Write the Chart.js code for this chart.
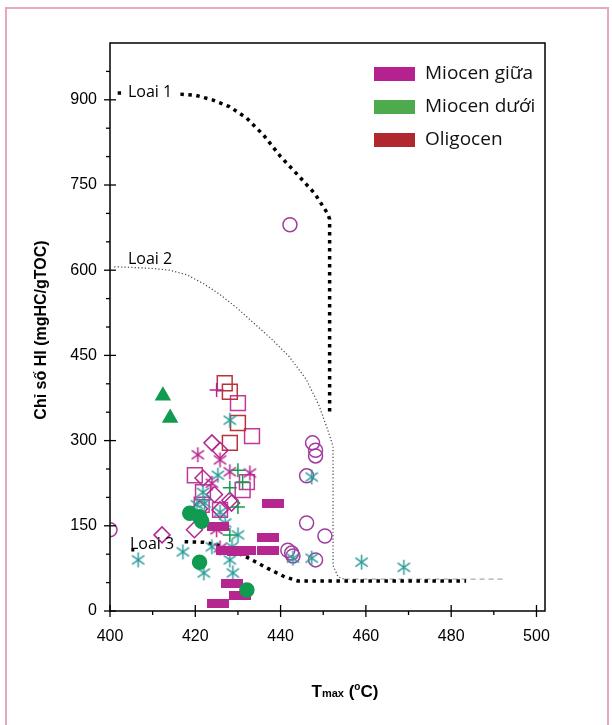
<!DOCTYPE html>
<html>
<head>
<meta charset="utf-8">
<script src="https://cdn.jsdelivr.net/npm/chart.js@4.4.1/dist/chart.umd.min.js"></script>
<style>
body { margin: 0; background: #fff; }
#vien { position: absolute; left: 5px; top: 7px; width: 604px; height: 740px; border: 2px solid #eba6bf; box-sizing: border-box; }
canvas { position: absolute; left: 0; top: 0; }
</style>
</head>
<body>
<div id="vien"></div>
<canvas id="chartHI" width="612" height="725"></canvas>
<script>
// Du lieu doc tu hinh: [Tmax, HI]
const giuaCircles = [[442.2,680],[400,143],[447.5,296],[448.2,283],[448.2,273],[446.1,238],[446.1,155],[450.4,132],[441.7,107],[442.6,102],[442.9,97],[448.2,90]];
const giuaSquares = [[419.9,239],[432.1,227],[431.1,213],[421.8,209],[421.5,187],[425.8,178],[430,366],[433.3,308]];
const oligoSquares = [[426.9,401],[428.1,386],[430,331],[428.1,296]];
const giuaDiamonds = [[423.9,296],[425.8,283],[421.8,234],[428.1,195],[425.8,178],[419.8,143],[412.2,134],[424.5,205],[428.5,190],[421,180]];
const giuaStars = [[420.6,275],[425.8,266],[428.1,245],[432.8,243],[423.9,225],[425.8,111],[425,143]];
const giuaPlus = [[425,389]];
const duoiPlus = [[430,248],[431.1,227],[428.1,217],[430,183],[428.1,134]];
const tealStars = [[447.3,236],[442.9,93],[447.3,93],[459,86],[468.9,77],[406.6,90],[417.1,104],[420.4,187],[422,67],[428.1,336],[425.3,239],[421.8,209],[422.2,190],[425.8,174],[427,155],[423.9,113],[430,134],[428.6,113],[428.1,90],[428.8,67]];
const giuaBars = [[438.2,190],[425.3,148],[437,129],[437,106],[427.4,106],[430,104],[431.6,106],[428.6,49],[430.4,28],[425.3,14]];
const duoiCircles = [[418.7,172],[421,166],[421.5,158],[421,86],[432.1,37]];
const duoiTriangles = [[412.4,379],[414.1,340]];

// Duong phan loai kerogen
const loai1 = [[401.8,912],[402.6,912],[409,null],[416.5,910],[420,908],[424,900],[428,888],[432,868],[436,838],[440,800],[444,768],[448,735],[451,700],[451.5,690],[451.5,345]];
const loai2 = [[401,606],[405,605],[410,603],[414,600],[418,592],[422,576],[426,556],[430,532],[434,505],[438,478],[442,448],[446,408],[449,362],[451,320],[452.3,290],[452.3,80],[453.5,60],[455,56]];
const loai2Duoi = [[455,56],[493,56]];
const loai3 = [[405,108],[405.7,108],[410,null],[417.5,122],[422,121],[426,115],[432,95],[437,75],[441,60],[444,53],[483.5,53]];

const legendItems = ['Miocen giữa', 'Miocen dưới', 'Oligocen'];
const legendColors = ['#b5218f', '#4dab4d', '#b0282e'];

const magenta = '#b5268e';
const purple = '#a03c9f';
const teal = '#2e9c9a';
const green = '#109b50';
const red = '#b8333a';

function xy(arr) {
	return arr.map(function(p){ return {x: p[0], y: p[1]}; });
}

function asterisk(color) {
	const c = document.createElement('canvas');
	c.width = 17; c.height = 17;
	const g = c.getContext('2d');
	g.strokeStyle = color;
	g.lineWidth = 1.5;
	[90, 35, 145].forEach(function(deg){
		const r = deg * Math.PI / 180;
		g.beginPath();
		g.moveTo(8.5 - Math.cos(r) * 7.5, 8.5 - Math.sin(r) * 7.5);
		g.lineTo(8.5 + Math.cos(r) * 7.5, 8.5 + Math.sin(r) * 7.5);
		g.stroke();
	});
	return c;
}

function bar(color) {
	const c = document.createElement('canvas');
	c.width = 22; c.height = 9;
	const g = c.getContext('2d');
	g.fillStyle = color;
	g.fillRect(0, 0, 22, 9);
	return c;
}

function marker(data, style, color, radius, filled) {
	return {
		data: xy(data),
		pointStyle: style,
		pointRadius: radius,
		pointBorderColor: color,
		pointBackgroundColor: filled ? color : 'rgba(0,0,0,0)',
		pointBorderWidth: 1.5,
		showLine: false
	};
}

function curve(data, color, width, dash) {
	return {
		data: xy(data),
		showLine: true,
		spanGaps: false,
		pointRadius: 0,
		borderColor: color,
		borderWidth: width,
		borderDash: dash,
		borderCapStyle: 'butt',
		tension: 0
	};
}

const khung = {
	id: 'khung',
	afterDraw(chart) {
		const ctx = chart.ctx;
		const a = chart.chartArea;
		const xs = chart.scales.x, ys = chart.scales.y;
		ctx.save();
		ctx.strokeStyle = '#000';
		ctx.lineWidth = 1.5;
		ctx.strokeRect(a.left, a.top, a.right - a.left, a.bottom - a.top);
		ctx.lineWidth = 1.3;
		xs.ticks.forEach(function(t){
			const px = xs.getPixelForValue(t.value);
			const major = t.value % 20 === 0;
			ctx.beginPath();
			ctx.moveTo(px, major ? a.bottom - 6 : a.bottom);
			ctx.lineTo(px, a.bottom + (major ? 6 : 4));
			ctx.stroke();
		});
		ys.ticks.forEach(function(t){
			if (t.value >= 1000) return;
			const py = ys.getPixelForValue(t.value);
			const major = t.value % 150 === 0;
			ctx.beginPath();
			ctx.moveTo(a.left - (major ? 6 : 4), py);
			ctx.lineTo(major ? a.left + 6 : a.left, py);
			ctx.stroke();
		});

		// ten truc
		ctx.fillStyle = '#000';
		ctx.save();
		ctx.translate(42, 330);
		ctx.rotate(-Math.PI / 2);
		ctx.font = 'bold 16px "Liberation Sans", Arial';
		ctx.textAlign = 'center';
		ctx.textBaseline = 'middle';
		ctx.fillText('Chỉ số HI (mgHC/gTOC)', 0, 0);
		ctx.restore();

		const parts = [
			['T', 'bold 17px "Liberation Sans", Arial', 0],
			['max', 'bold 11px "Liberation Sans", Arial', 0],
			[' (', 'bold 17px "Liberation Sans", Arial', 0],
			['o', 'bold 10px "Liberation Sans", Arial', -7],
			['C)', 'bold 17px "Liberation Sans", Arial', 0]
		];
		let total = 0;
		parts.forEach(function(p){ ctx.font = p[1]; total += ctx.measureText(p[0]).width; });
		let x = 345 - total / 2;
		ctx.textAlign = 'left';
		ctx.textBaseline = 'alphabetic';
		parts.forEach(function(p){
			ctx.font = p[1];
			ctx.fillText(p[0], x, 697 + p[2]);
			x += ctx.measureText(p[0]).width;
		});

		// chu thich
		ctx.font = '19px "Open Sans", "Noto Sans", sans-serif';
		ctx.textBaseline = 'middle';
		legendItems.forEach(function(name, i){
			const cy = 74 + i * 33;
			ctx.fillStyle = legendColors[i];
			ctx.fillRect(374, cy - 7, 41, 14);
			ctx.fillStyle = '#111';
			ctx.fillText(name, 425, cy);
		});

		// nhan duong
		ctx.font = '16px "Open Sans", "Noto Sans", sans-serif';
		ctx.fillStyle = '#000';
		ctx.fillText('Loai 1', 128, 92);
		ctx.fillText('Loai 2', 128, 259);
		ctx.fillText('Loai 3', 130, 544);
		ctx.restore();
	}
};

const chartHI = new Chart(document.getElementById('chartHI'), {
	type: 'scatter',
	data: {
		datasets: [
			marker(duoiTriangles, 'triangle', green, 8, true),
			marker(duoiCircles, 'circle', green, 7, true),
			marker(giuaBars, bar(magenta), magenta, 5, true),
			marker(duoiPlus, 'cross', green, 7, false),
			marker(giuaPlus, 'cross', magenta, 7, false),
			marker(giuaStars, asterisk(magenta), magenta, 7, false),
			marker(tealStars, asterisk(teal), teal, 7, false),
			marker(giuaDiamonds, 'rectRot', magenta, 8, false),
			marker(oligoSquares, 'rect', red, 10.5, false),
			marker(giuaSquares, 'rect', '#c0399a', 10.5, false),
			marker(giuaCircles, 'circle', purple, 7, false),
			curve(loai1, '#000', 3.5, [3.5, 4.5]),
			curve(loai3, '#000', 3.5, [3.5, 4.5]),
			curve(loai2, '#444', 1.2, [1.2, 2.2]),
			curve(loai2Duoi, '#aaa', 1.2, [5, 4])
		]
	},
	options: {
		responsive: false,
		animation: false,
		layout: {
			padding: { left: 0, top: 43, right: 67, bottom: 0 }
		},
		plugins: {
			legend: { display: false },
			tooltip: { enabled: false }
		},
		scales: {
			x: {
				type: 'linear',
				min: 400,
				max: 502,
				grid: { display: false, drawTicks: false },
				border: { display: false },
				ticks: {
					stepSize: 10,
					includeBounds: false,
					autoSkip: false,
					maxRotation: 0,
					padding: 16,
					color: '#000',
					font: { family: '"Liberation Sans", Arial', size: 16 },
					callback: function(v){ return v % 20 === 0 ? v : ''; }
				},
				afterFit: function(s){ s.height = 114; }
			},
			y: {
				min: 0,
				max: 1000,
				grid: { display: false, drawTicks: false },
				border: { display: false },
				ticks: {
					stepSize: 50,
					autoSkip: false,
					padding: 13,
					color: '#000',
					font: { family: '"Liberation Sans", Arial', size: 16 },
					callback: function(v){ return (v % 150 === 0 && v <= 900) ? v : ''; }
				},
				afterFit: function(s){ s.width = 110; }
			}
		}
	},
	plugins: [khung]
});
</script>
</body>
</html>
